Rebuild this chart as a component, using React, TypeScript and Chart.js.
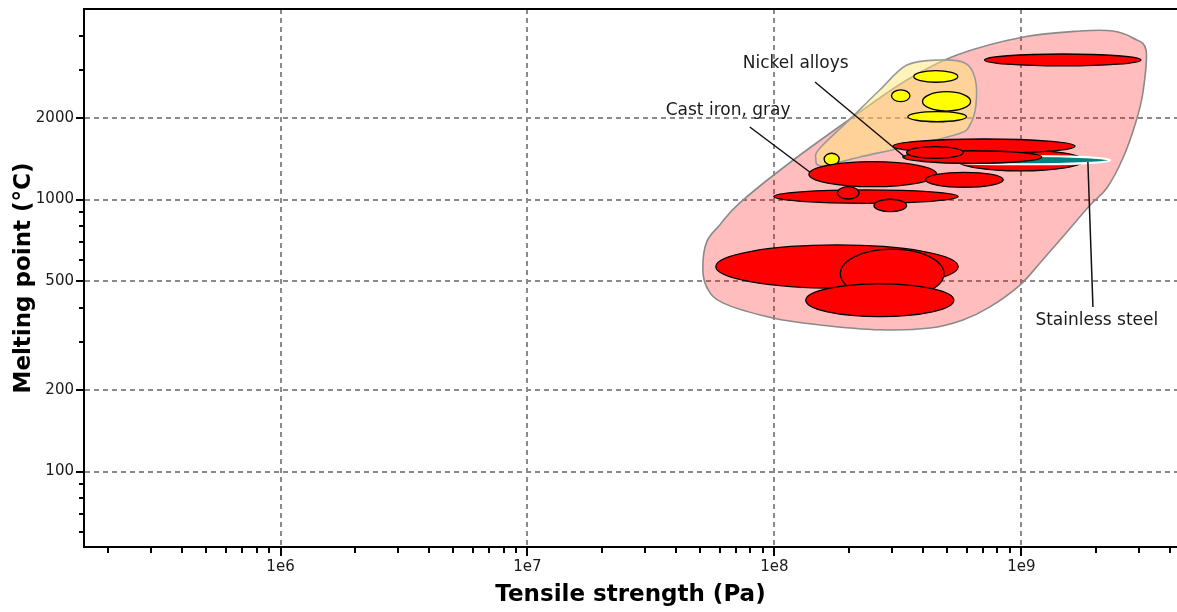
import React, { useEffect, useRef } from "react";
import { Chart, registerables } from "chart.js";

Chart.register(...registerables);

type Box = [number, number, number, number]; // tensile min, tensile max, melt min, melt max
type Pt = [number, number]; // tensile (Pa), melting point (°C)

// Axis ranges
const X_RANGE: [number, number] = [1.6e5, 4.27e9];
const Y_RANGE: [number, number] = [52.8, 5020];

// Tick values and labels
const xLabelTicks = [1e6, 1e7, 1e8, 1e9];
const xLabelTexts = ["1e6", "1e7", "1e8", "1e9"];
const xMinorTicks = [
  2e5, 3e5, 4e5, 5e5, 6e5, 7e5, 8e5, 9e5,
  2e6, 3e6, 4e6, 5e6, 6e6, 7e6, 8e6, 9e6,
  2e7, 3e7, 4e7, 5e7, 6e7, 7e7, 8e7, 9e7,
  2e8, 3e8, 4e8, 5e8, 6e8, 7e8, 8e8, 9e8,
  2e9, 3e9, 4e9,
];
const yLabelTicks = [100, 200, 500, 1000, 2000];
const yLabelTexts = ["100", "200", "500", "1000", "2000"];
const yMinorTicks = [60, 70, 80, 90, 300, 400, 600, 700, 800, 900, 3000, 4000];

// Family envelopes (metals, nickel alloys)
const metalsEnvelope: Pt[] = [
  [3.2e9, 3546], [3.11e9, 2486], [2.91e9, 1929], [2.58e9, 1422], [2.22e9, 1103],
  [1.9e9, 955], [1.47e9, 729], [1.19e9, 585], [9.87e8, 485], [7.46e8, 403],
  [5.8e8, 361], [4.26e8, 337], [2.67e8, 332], [1.53e8, 346], [9.85e7, 367],
  [6.18e7, 417], [5.32e7, 477], [5.13e7, 561], [5.32e7, 699], [6.01e7, 807],
  [7.24e7, 972], [1.15e8, 1363], [2.08e8, 2012], [3.44e8, 2751], [5.48e8, 3399],
  [1.02e9, 3959], [1.73e9, 4165], [2.35e9, 4165], [2.83e9, 3926],
];
const nickelEnvelope: Pt[] = [
  [3.44e8, 3124], [4.68e8, 3260], [5.91e8, 3177], [6.49e8, 2798], [6.55e8, 2227],
  [6.19e8, 1880], [5.53e8, 1742], [3.38e8, 1561], [2.22e8, 1434], [1.56e8, 1329],
  [1.47e8, 1422], [1.53e8, 1547], [1.97e8, 1929], [2.67e8, 2528],
];

// Material bubbles
const nickelBubbles: Box[] = [
  [3.67e8, 5.53e8, 2700, 2980],
  [2.98e8, 3.54e8, 2290, 2530],
  [3.98e8, 6.23e8, 2116, 2492],
  [3.47e8, 6.0e8, 1933, 2104],
  [1.59e8, 1.83e8, 1341, 1480],
];
const metalBubblesBack: Box[] = [
  [7.1e8, 3.05e9, 3100, 3430],
  [5.79e7, 5.55e8, 472, 681],
  [1.85e8, 4.86e8, 434, 657],
  [1.34e8, 5.33e8, 371, 490],
  [9.94e7, 5.55e8, 969, 1085],
  [1.8e8, 2.2e8, 1005, 1115],
  [2.53e8, 3.43e8, 903, 1003],
  [1.38e8, 4.54e8, 1115, 1378],
  [4.09e8, 8.45e8, 1110, 1260],
  [5.53e8, 1.78e9, 1274, 1521],
];
const stainlessBubbles: Box[] = [[4.68e8, 2.29e9, 1348, 1446]];
const metalBubblesFront: Box[] = [
  [3.02e8, 1.65e9, 1480, 1670],
  [3.31e8, 1.21e9, 1359, 1512],
  [3.43e8, 5.82e8, 1418, 1565],
];

// Annotations
const labelTexts = ["Nickel alloys", "Cast iron, gray", "Stainless steel"];
const labelAnchors: Pt[] = [[7.45e7, 3150], [3.63e7, 2116], [1.14e9, 358]];
const leaderLines: [Pt, Pt][] = [
  [[1.46e8, 2705], [3.38e8, 1434]],
  [[7.95e7, 1849], [1.39e8, 1263]],
  [[1.86e9, 1375], [1.95e9, 403]],
];

const FONT = "'DejaVu Sans', Verdana, sans-serif";

const ashbyPlugin = {
  id: "ashby",
  beforeDatasetsDraw(chart: any) {
    const { ctx, chartArea: a, scales } = chart;
    const xs = scales.x;
    const ys = scales.y;
    const px = (v: number) => xs.getPixelForValue(v);
    const py = (v: number) => ys.getPixelForValue(v);

    ctx.save();
    ctx.beginPath();
    ctx.rect(a.left, a.top, a.right - a.left, a.bottom - a.top);
    ctx.clip();

    const hull = (pts: Pt[], fill: string, stroke: string) => {
      const p = pts.map(([vx, vy]) => [px(vx), py(vy)]);
      const n = p.length;
      ctx.beginPath();
      ctx.moveTo(p[0][0], p[0][1]);
      for (let i = 0; i < n; i++) {
        const p0 = p[(i - 1 + n) % n];
        const p1 = p[i];
        const p2 = p[(i + 1) % n];
        const p3 = p[(i + 2) % n];
        const c1x = p1[0] + (p2[0] - p0[0]) / 6;
        const c1y = p1[1] + (p2[1] - p0[1]) / 6;
        const c2x = p2[0] - (p3[0] - p1[0]) / 6;
        const c2y = p2[1] - (p3[1] - p1[1]) / 6;
        ctx.bezierCurveTo(c1x, c1y, c2x, c2y, p2[0], p2[1]);
      }
      ctx.closePath();
      ctx.fillStyle = fill;
      ctx.fill();
      ctx.lineWidth = 1.6;
      ctx.strokeStyle = stroke;
      ctx.stroke();
    };

    const ell = (b: Box, fill: string, stroke: string, lw: number) => {
      const x0 = px(b[0]), x1 = px(b[1]);
      const y0 = py(b[2]), y1 = py(b[3]);
      const cx = (x0 + x1) / 2, cy = (y0 + y1) / 2;
      const rx = Math.abs(x1 - x0) / 2, ry = Math.abs(y1 - y0) / 2;
      ctx.beginPath();
      ctx.ellipse(cx, cy, rx, ry, 0, 0, Math.PI * 2);
      ctx.fillStyle = fill;
      ctx.fill();
      ctx.lineWidth = lw;
      ctx.strokeStyle = stroke;
      ctx.stroke();
    };

    hull(metalsEnvelope, "rgba(255,0,0,0.26)", "#8a8a8a");
    hull(nickelEnvelope, "rgba(255,232,120,0.5)", "#9a9a9a");
    nickelBubbles.forEach((b) => ell(b, "#ffff00", "#000", 1.3));
    metalBubblesBack.forEach((b) => ell(b, "#ff0000", "#000", 1.3));
    stainlessBubbles.forEach((b) => ell(b, "#008080", "#ffffff", 2));
    metalBubblesFront.forEach((b) => ell(b, "#ff0000", "#000", 1.3));

    // leader lines
    ctx.strokeStyle = "#111";
    ctx.lineWidth = 1.5;
    leaderLines.forEach(([s, e]) => {
      ctx.beginPath();
      ctx.moveTo(px(s[0]), py(s[1]));
      ctx.lineTo(px(e[0]), py(e[1]));
      ctx.stroke();
    });

    // labels
    ctx.fillStyle = "#1a1a1a";
    ctx.font = `17px ${FONT}`;
    ctx.textAlign = "left";
    ctx.textBaseline = "middle";
    labelTexts.forEach((t, i) => {
      ctx.fillText(t, px(labelAnchors[i][0]), py(labelAnchors[i][1]));
    });
    ctx.restore();
  },
  afterDraw(chart: any) {
    const { ctx, chartArea: a, scales } = chart;
    ctx.save();
    ctx.strokeStyle = "#000";
    ctx.lineWidth = 2;
    // top frame line
    ctx.beginPath();
    ctx.moveTo(a.left - 1, a.top);
    ctx.lineTo(a.right, a.top);
    ctx.stroke();
    // tick marks
    scales.x.ticks.forEach((t: any) => {
      const major = xLabelTicks.includes(t.value);
      const x = Math.round(scales.x.getPixelForValue(t.value));
      ctx.beginPath();
      ctx.moveTo(x, a.bottom);
      ctx.lineTo(x, a.bottom + (major ? 9 : 6));
      ctx.stroke();
    });
    scales.y.ticks.forEach((t: any) => {
      const major = yLabelTicks.includes(t.value);
      const y = Math.round(scales.y.getPixelForValue(t.value));
      ctx.beginPath();
      ctx.moveTo(a.left - (major ? 8 : 5), y);
      ctx.lineTo(a.left, y);
      ctx.stroke();
    });
    ctx.restore();
  },
};

export default function App() {
  const ref = useRef<HTMLCanvasElement | null>(null);

  useEffect(() => {
    if (!ref.current) return;
    const xTicksAll = [...xMinorTicks, ...xLabelTicks].sort((p, q) => p - q);
    const yTicksAll = [...yMinorTicks, ...yLabelTicks].sort((p, q) => p - q);
    const chart = new Chart(ref.current, {
      type: "scatter",
      data: { datasets: [] },
      options: {
        animation: false,
        responsive: false,
        layout: { padding: { top: 9, left: 0, right: 0, bottom: 0 } },
        plugins: { legend: { display: false }, tooltip: { enabled: false } },
        scales: {
          x: {
            type: "logarithmic",
            position: "bottom",
            min: X_RANGE[0],
            max: X_RANGE[1],
            afterBuildTicks: (s: any) => {
              s.ticks = xTicksAll.map((v) => ({ value: v }));
            },
            afterFit: (s: any) => {
              s.height = 65;
              s.paddingLeft = 0;
              s.paddingRight = 0;
            },
            ticks: {
              autoSkip: false,
              maxRotation: 0,
              padding: 11,
              color: "#1a1a1a",
              font: { family: FONT, size: 15 },
              callback: (v: any) => {
                const i = xLabelTicks.indexOf(Number(v));
                return i >= 0 ? xLabelTexts[i] : "";
              },
            },
            grid: {
              drawTicks: false,
              lineWidth: 2,
              color: (c: any) =>
                c.tick && xLabelTicks.includes(c.tick.value) ? "#8a8a8a" : "rgba(0,0,0,0)",
            },
            border: { display: true, color: "#000", width: 2, dash: [5, 4] },
            title: {
              display: true,
              text: "Tensile strength (Pa)",
              color: "#000",
              font: { family: FONT, size: 23, weight: "bold", lineHeight: 1.2 },
              padding: { top: 0, bottom: 3 },
            },
          },
          y: {
            type: "logarithmic",
            position: "left",
            min: Y_RANGE[0],
            max: Y_RANGE[1],
            afterBuildTicks: (s: any) => {
              s.ticks = yTicksAll.map((v) => ({ value: v }));
            },
            afterFit: (s: any) => {
              s.width = 84;
              s.paddingTop = 0;
              s.paddingBottom = 0;
            },
            ticks: {
              autoSkip: false,
              padding: 10,
              color: "#1a1a1a",
              font: { family: FONT, size: 15 },
              callback: (v: any) => {
                const i = yLabelTicks.indexOf(Number(v));
                return i >= 0 ? yLabelTexts[i] : "";
              },
            },
            grid: {
              drawTicks: false,
              lineWidth: 2,
              color: (c: any) =>
                c.tick && yLabelTicks.includes(c.tick.value) ? "#8a8a8a" : "rgba(0,0,0,0)",
            },
            border: { display: true, color: "#000", width: 2, dash: [5, 4] },
            title: {
              display: true,
              text: "Melting point (°C)",
              color: "#000",
              font: { family: FONT, size: 23, weight: "bold", lineHeight: 1.2 },
              padding: { top: 10, bottom: 0 },
            },
          },
        },
      },
      plugins: [ashbyPlugin],
    } as any);
    return () => chart.destroy();
  }, []);

  return (
    <div style={{ position: "absolute", left: 0, top: 0, width: 1177, height: 612, background: "#fff" }}>
      <canvas ref={ref} width={1177} height={612} style={{ display: "block" }} />
    </div>
  );
}
